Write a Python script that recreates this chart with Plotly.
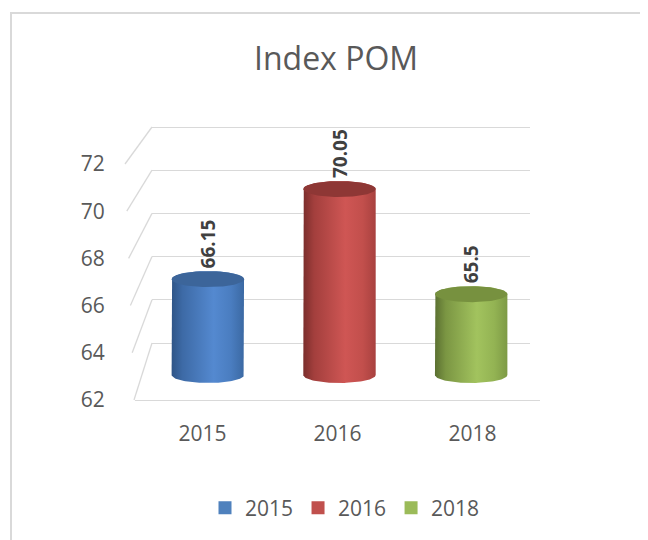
import numpy as np
import plotly.graph_objects as go

# ---------------- data ----------------
categories = ["2015", "2016", "2018"]
values = [66.15, 70.05, 65.5]
y_ticks = [62, 64, 66, 68, 70, 72]
title_text = "Index POM"

# ---------------- styles ----------------
W, H = 648, 540
OFF = 8  # page body margin
FONT = "Open Sans"
TXT = "#595959"
GRID = "#d9d9d9"
legend_colors = ["#4f81bd", "#c0504d", "#9bbb59"]
body_scales = [
    [[0, "#2f5587"], [0.15, "#3d6aa6"], [0.58, "#5489d0"], [0.82, "#4a7dc0"], [1, "#3b69a3"]],
    [[0, "#7b2e2c"], [0.15, "#a33f3d"], [0.58, "#cf5654"], [0.82, "#c24f4c"], [1, "#a8413f"]],
    [[0, "#5b7031"], [0.15, "#7b9643"], [0.58, "#a2c35e"], [0.82, "#93b353"], [1, "#7d9a45"]],
]
cap_colors = ["#3c659a", "#8e3735", "#77913f"]

def px(x):
    return (x - OFF) / W

def py(y):
    return 1 - (y - OFF) / H

# layout geometry in (viewport) pixels
BACK = dict(x0=152, x1=530, ylo=343, yhi=127)      # back wall, 62..72
FRONT = dict(x0=135, x1=540, ylo=400, yhi=164)     # front plane, 62..72
BAR_BASE_PX, BAR_SCALE = 375, 23.1                 # mid-depth plane for cylinders
BAR_RANGE = [60, 74]
BAR_X = dict(x0=142, x1=537)
YMIN, YMAX = y_ticks[0], y_ticks[-1]
EPS = 0.3
back_scale = (BACK["ylo"] - BACK["yhi"]) / (YMAX - YMIN)

cyl_half_w = 0.275          # in category units
cyl_half_h_px = 8.0
cyl_half_h = cyl_half_h_px / BAR_SCALE

fig = go.Figure()

# placeholder traces so the wall / front subplots exist
fig.add_trace(go.Scatter(x=[None], y=[None], xaxis="x", yaxis="y", showlegend=False, hoverinfo="skip"))
fig.add_trace(go.Scatter(x=[None], y=[None], xaxis="x2", yaxis="y2", showlegend=False, hoverinfo="skip"))

# cylinders
t_top = np.linspace(np.pi, 0, 60)
t_bot = np.linspace(0, -np.pi, 60)
t_full = np.linspace(0, 2 * np.pi, 100)
for i, (cat, v) in enumerate(zip(categories, values)):
    cx = i
    xs = ([cx - cyl_half_w] + list(cx + cyl_half_w * np.cos(t_top)) +
          [cx + cyl_half_w] + list(cx + cyl_half_w * np.cos(t_bot)))
    ys = ([YMIN] + list(v + cyl_half_h * np.sin(t_top)) +
          [YMIN] + list(YMIN + cyl_half_h * np.sin(t_bot)))
    fig.add_trace(go.Scatter(
        x=xs, y=ys, xaxis="x3", yaxis="y3", mode="lines", fill="toself",
        line=dict(width=0), fillgradient=dict(type="horizontal", colorscale=body_scales[i]),
        showlegend=False, hoverinfo="skip"))
    fig.add_trace(go.Scatter(
        x=cx + cyl_half_w * np.cos(t_full), y=v + cyl_half_h * np.sin(t_full),
        xaxis="x3", yaxis="y3", mode="lines", fill="toself",
        line=dict(width=0), fillcolor=cap_colors[i], showlegend=False, hoverinfo="skip"))
    fig.add_annotation(
        x=cx, y=v, xref="x3", yref="y3", text=f"{v:g}", textangle=-90,
        showarrow=False, xanchor="center", yanchor="bottom", yshift=cyl_half_h_px + 1,
        font=dict(family=FONT, size=19, color="#404040", weight="bold"))

# legend entries
for cat, col in zip(categories, legend_colors):
    fig.add_trace(go.Scatter(
        x=[None], y=[None], xaxis="x3", yaxis="y3", mode="markers", name=cat,
        marker=dict(symbol="square", size=13, color=col)))

# diagonal side-wall lines
def front_y(v):
    return FRONT["ylo"] - (v - YMIN) / (YMAX - YMIN) * (FRONT["ylo"] - FRONT["yhi"])

def back_y(v):
    return BACK["ylo"] - (v - YMIN) * back_scale

def front_x(v):
    return 134 - 0.9 * (v - YMIN)

shapes = []
for v in y_ticks:
    shapes.append(dict(type="line", xref="paper", yref="paper",
                       x0=px(front_x(v)), y0=py(front_y(v)),
                       x1=px(BACK["x0"]), y1=py(back_y(v)),
                       line=dict(color=GRID, width=1.3), layer="below"))
# outer border
shapes.append(dict(type="rect", xref="paper", yref="paper",
                   x0=px(11), y0=py(13), x1=px(W + 30), y1=py(H + 30),
                   line=dict(color="#d9d9d9", width=2), layer="below"))

fig.add_annotation(x=px(336), y=py(57), xref="paper", yref="paper", text=title_text,
                   showarrow=False, xanchor="center", yanchor="middle",
                   font=dict(family=FONT, size=32, color=TXT))

hidden = dict(showgrid=False, zeroline=False, showline=False, showticklabels=False, ticks="")

fig.update_layout(
    width=W, height=H, autosize=False,
    margin=dict(l=0, r=0, t=0, b=0, pad=0, autoexpand=False),
    paper_bgcolor="white", plot_bgcolor="rgba(0,0,0,0)",
    font=dict(family=FONT, color=TXT),
    shapes=shapes,
    showlegend=True,
    legend=dict(orientation="h", x=px(345), xanchor="center", y=py(508), yanchor="middle",
                font=dict(family=FONT, size=21, color=TXT), itemclick=False,
                itemdoubleclick=False, bgcolor="rgba(0,0,0,0)", tracegroupgap=0),
    # back wall
    xaxis=dict(domain=[px(BACK["x0"]), px(BACK["x1"])], range=[0, 1], anchor="y", **hidden),
    yaxis=dict(domain=[py(BACK["ylo"] + EPS * back_scale), py(BACK["yhi"] - EPS * back_scale)],
               range=[YMIN - EPS, YMAX + EPS], anchor="x",
               showgrid=True, gridcolor=GRID, gridwidth=1.3, tickvals=y_ticks,
               zeroline=False, showline=False, showticklabels=False, ticks=""),
    # front plane: category labels, floor edge, value labels
    xaxis2=dict(domain=[px(FRONT["x0"]), px(FRONT["x1"])], range=[-0.5, 2.5], anchor="y2",
                tickvals=list(range(len(categories))), ticktext=categories,
                showgrid=False, zeroline=False, showline=True, linecolor=GRID, linewidth=1.3,
                ticks="outside", ticklen=15, tickcolor="rgba(0,0,0,0)",
                tickfont=dict(family=FONT, size=21, color=TXT)),
    yaxis2=dict(domain=[py(FRONT["ylo"]), py(FRONT["yhi"])], range=[YMIN, YMAX], anchor="x2",
                tickvals=y_ticks, ticktext=[str(t) for t in y_ticks],
                showgrid=False, zeroline=False, showline=False,
                ticks="outside", ticklen=25, tickcolor="rgba(0,0,0,0)",
                tickfont=dict(family=FONT, size=21, color=TXT)),
    # cylinders
    xaxis3=dict(domain=[px(BAR_X["x0"]), px(BAR_X["x1"])], range=[-0.5, 2.5], anchor="y3", **hidden),
    yaxis3=dict(domain=[py(BAR_BASE_PX + (YMIN - BAR_RANGE[0]) * BAR_SCALE),
                        py(BAR_BASE_PX - (BAR_RANGE[1] - YMIN) * BAR_SCALE)],
                range=BAR_RANGE, anchor="x3", **hidden),
)

fig.write_html("out.html")
